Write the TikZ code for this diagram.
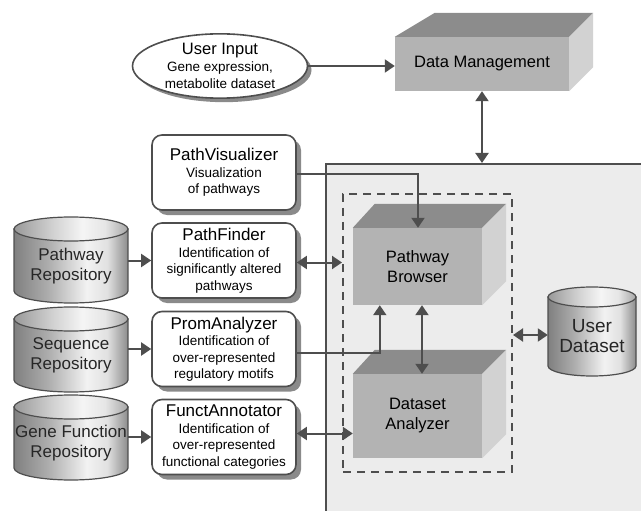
\documentclass[tikz,border=0pt]{standalone}
\usepackage{fontspec}
\setmainfont{Liberation Sans}
\usetikzlibrary{arrows.meta,shapes.geometric,shadows}

\definecolor{linegray}{HTML}{4E4E4E}
\definecolor{panelgray}{HTML}{ECECEC}
\definecolor{frontgray}{HTML}{B3B3B3}
\definecolor{topgray}{HTML}{8C8C8C}
\definecolor{sidegray}{HTML}{D2D2D2}
\definecolor{shadowgray}{HTML}{8A8A8A}

% metallic gradients for the database cylinders (path spans 25bp..75bp)
\pgfdeclarehorizontalshading{cylbodyshade}{100bp}{%
  color(0bp)=(black!50); color(25bp)=(black!50); color(40bp)=(black!32);
  color(57bp)=(black!5); color(66bp)=(black!12); color(75bp)=(black!45);
  color(100bp)=(black!45)}
\pgfdeclarehorizontalshading{cyltopshade}{100bp}{%
  color(0bp)=(black!40); color(25bp)=(black!40); color(42bp)=(black!18);
  color(55bp)=(black!4); color(65bp)=(black!10); color(75bp)=(black!35);
  color(100bp)=(black!35)}

\newcommand\tooltitle[1]{{\fontsize{17}{16.5}\selectfont #1}}

% solid 3-D block: front face is the named node, top and right faces are added
% #1 name, #2 x, #3 y, #4 width, #5 height, #6 left depth offset, #7 text
\newcommand\solidbox[7]{%
  \node[boxfront, minimum width=#4, minimum height=#5] (#1) at (#2,#3) {#7};
  \fill[topgray] (#1.north west) -- ++(#6,-24) -- ([shift={(24,-24)}]#1.north east)
     -- (#1.north east) -- cycle;
  \fill[sidegray] (#1.north east) -- ++(24,-24) -- ([shift={(24,-24)}]#1.south east)
     -- (#1.south east) -- cycle;
}

% database cylinder
% #1 name, #2 cx, #3 cy, #4 half width, #5 half height, #6 end radius, #7 text
\newcommand\dbcyl[7]{%
  \path[cylbody] (#2-#4,#3-#5+#6) -- (#2-#4,#3+#5-#6)
     arc[start angle=180,end angle=0,x radius=#4,y radius=#6]
     -- (#2+#4,#3-#5+#6) -- cycle;
  \path[cyltop] (#2,#3-#5+#6) ellipse[x radius=#4,y radius=#6];
  \node[cyltext, minimum width=2*#4, minimum height=2*#5] (#1) at (#2,#3+#6/2) {#7};
}

\begin{document}
\begin{tikzpicture}[x=1pt,y=-1pt,
  conn/.style={draw=linegray, line width=2pt},
  arr/.style={conn, -{Triangle[length=10pt,width=13pt]}},
  dblarr/.style={conn, {Triangle[length=10pt,width=13pt]}-{Triangle[length=10pt,width=13pt]}},
  boxfront/.style={fill=frontgray, inner sep=0, align=center,
     font=\fontsize{16.5}{20}\selectfont},
  tool/.style={draw=linegray, line width=1.6pt, fill=white, rounded corners=10pt,
     minimum width=144, minimum height=75, inner sep=0, align=center,
     font=\fontsize{13.5}{16.5}\selectfont,
     drop shadow={shadow xshift=5pt, shadow yshift=-5pt, fill=shadowgray, opacity=1}},
  cylbody/.style={draw=linegray, line width=1.2pt, shading=cylbodyshade},
  cyltop/.style={draw=linegray, line width=1.2pt, shading=cyltopshade},
  cyltext/.style={inner sep=0, align=center, text=black!85,
     font=\fontsize{17}{20}\selectfont},
]
\useasboundingbox (0,0) rectangle (641,511);
\clip (0,0) rectangle (641,511);

% shaded work area and the dashed core group
\node[draw=linegray, line width=2pt, fill=panelgray, inner sep=0,
      minimum width=340, minimum height=370, anchor=north west] (panel) at (325,163) {};
\node[draw=linegray, line width=2pt, dash pattern=on 8pt off 6pt, inner sep=0,
      minimum width=169, minimum height=278, anchor=north west] (core) at (342,193) {};

% user input
\node[ellipse, draw=linegray, line width=1.6pt, fill=white, inner sep=0,
      minimum width=175, minimum height=62, align=center,
      font=\fontsize{13.5}{17}\selectfont,
      drop shadow={shadow xshift=4pt, shadow yshift=-4pt, fill=shadowgray, opacity=1}]
  (userinput) at (220,66)
  {{\fontsize{16.5}{17}\selectfont User Input}\\Gene expression,\\metabolite dataset};

% 3-D blocks
\solidbox{dm}{482}{64}{174}{54}{40}{Data Management}
\solidbox{pbrowser}{417.5}{266.5}{129}{77}{22}{Pathway\\Browser}
\solidbox{danalyzer}{417.5}{416}{129}{84}{22}{Dataset\\Analyzer}

% repositories
\dbcyl{pathrepo}{71}{260}{57}{43}{12}{Pathway\\Repository}
\dbcyl{seqrepo}{71}{349.5}{57}{42.5}{12}{Sequence\\Repository}
\dbcyl{generepo}{71}{437.5}{57}{42.5}{12}{Gene Function\\Repository}
\dbcyl{userdata}{592}{331.5}{44}{44.5}{10}{{\fontsize{19}{23}\selectfont User}\\{\fontsize{19}{23}\selectfont Dataset}}

% analysis tools
\node[tool] (pathvis) at (224,172.5) {\tooltitle{PathVisualizer}\\Visualization\\of pathways};
\node[tool] (pathfinder) at (224,260.5) {\tooltitle{PathFinder}\\Identification of\\significantly altered\\pathways};
\node[tool] (promanalyzer) at (224,349) {\tooltitle{PromAnalyzer}\\Identification of\\over-represented\\regulatory motifs};
\node[tool] (functann) at (224,437) {\tooltitle{FunctAnnotator}\\Identification of\\over-represented\\functional categories};

% connectors
\draw[arr] (userinput.east) -- (userinput.east -| dm.west);
\draw[dblarr] (dm.south) -- (dm.south |- panel.north);
\draw[arr] ([yshift=-1.5pt]pathvis.east) -| ([xshift=0.5pt]pbrowser.north);
\draw[dblarr] ([yshift=-2pt]pathfinder.east) -- ([yshift=-2pt]pathfinder.east -| core.west);
\draw[arr] ([yshift=-3.5pt]promanalyzer.east) -| ([xshift=27pt]pbrowser.south west);
\draw[dblarr] ([yshift=3.5pt]functann.east) -- ([yshift=3.5pt]functann.east -| danalyzer.west);
\draw[dblarr] ([xshift=4.5pt]pbrowser.south) -- ([xshift=4.5pt]danalyzer.north);
\draw[dblarr] ([yshift=-2pt]core.east) -- ([yshift=-2pt]core.east -| userdata.west);

\draw[arr] (pathrepo.east |- pathfinder.west) -- (pathfinder.west);
\draw[arr] (seqrepo.east |- promanalyzer.west) -- (promanalyzer.west);
\draw[arr] (generepo.east |- functann.west) -- (functann.west);
\end{tikzpicture}
\end{document}
